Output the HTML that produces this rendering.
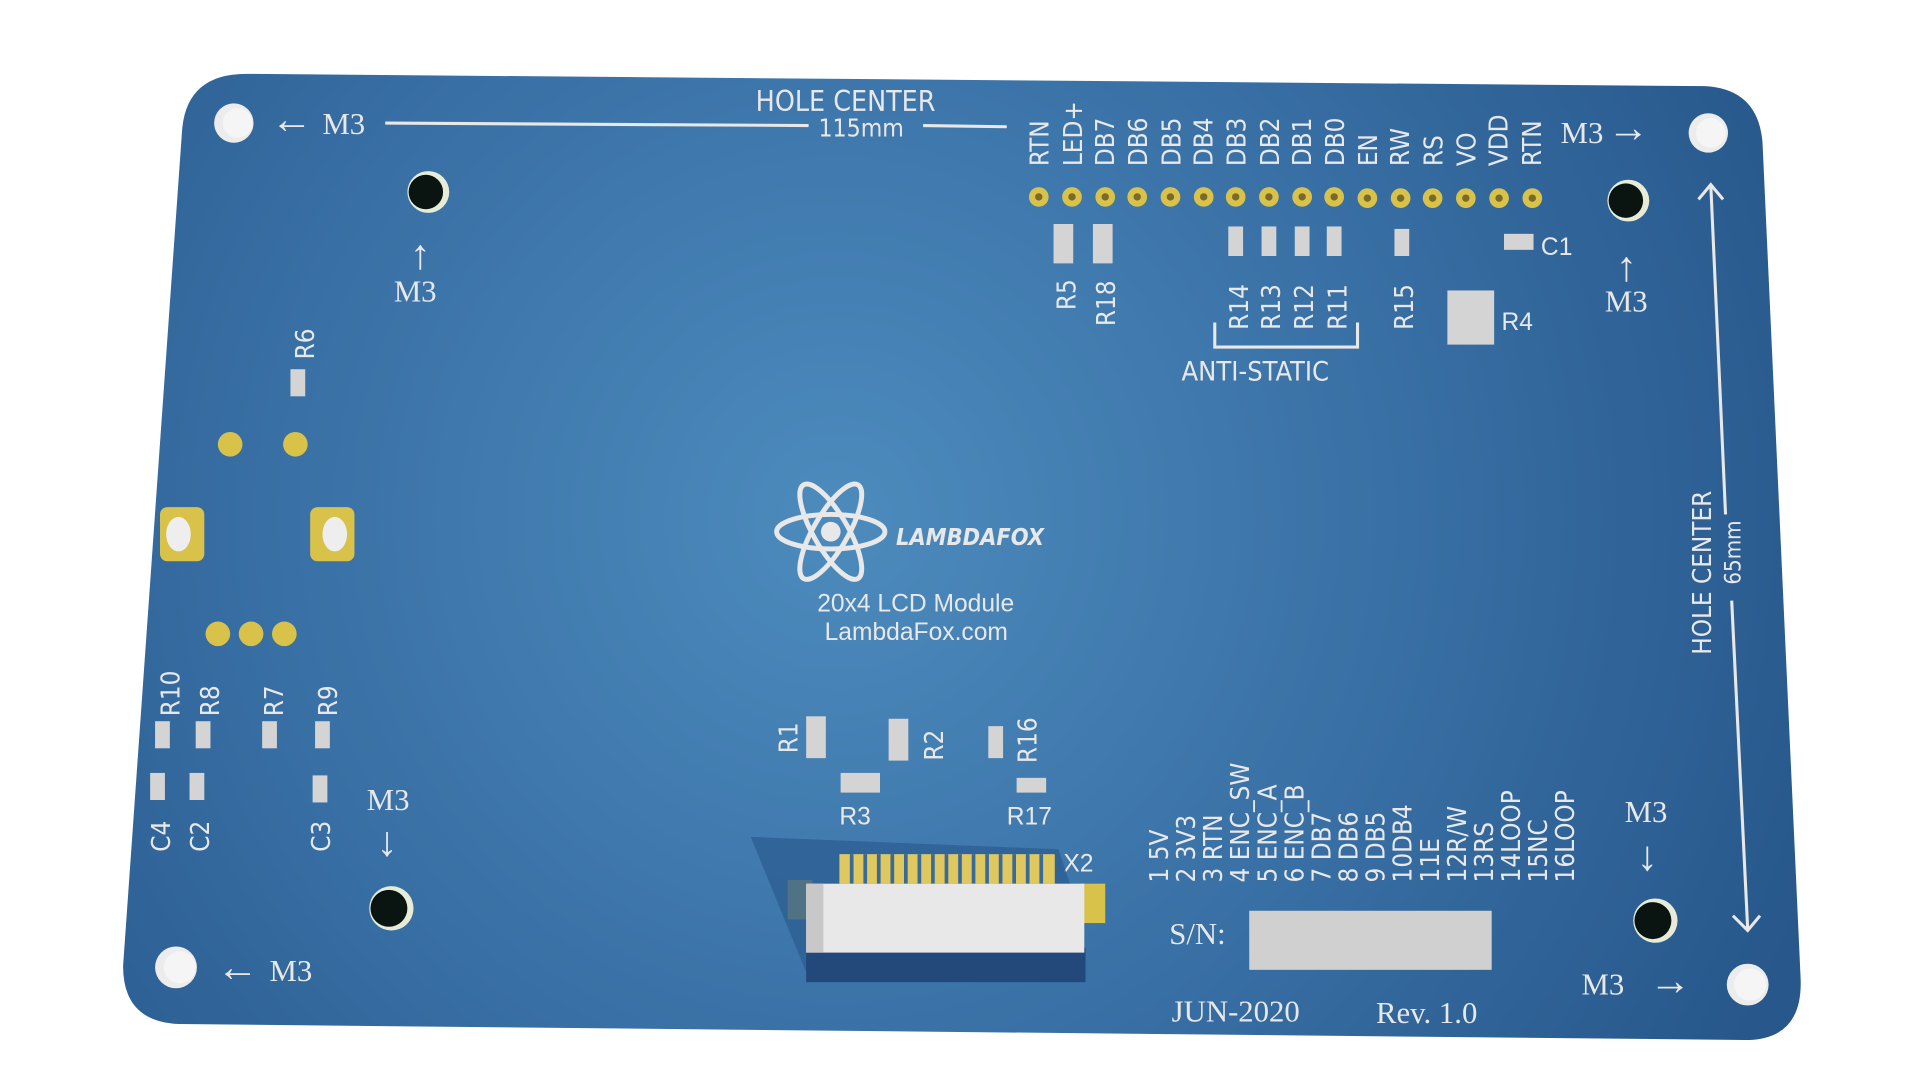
<!DOCTYPE html>
<html><head><meta charset="utf-8"><style>html,body{margin:0;padding:0;background:#fff;overflow:hidden}svg{display:block}</style></head>
<body>
<svg width="1920" height="1080" viewBox="0 0 1560 877.5" xmlns="http://www.w3.org/2000/svg">
<defs>
<radialGradient id="bg" cx="680" cy="420" r="850" gradientUnits="userSpaceOnUse">
<stop offset="0" stop-color="#4d8bbd"/><stop offset="0.55" stop-color="#386fa4"/><stop offset="1" stop-color="#27578b"/>
</radialGradient>
</defs>
<path d="M200,60 L1385,70 Q1428,72 1432,115 L1463,795 Q1465,845 1418,845 L145,832 Q100,830 100,785 L148,105 Q152,60 200,60 Z" fill="url(#bg)"/>
<g fill="#ececec"><circle cx="190" cy="100" r="16"/><circle cx="1388" cy="108" r="16"/><circle cx="1420" cy="800" r="17"/><circle cx="143" cy="786" r="17"/></g>
<g fill="#f5f5f5"><circle cx="193" cy="100" r="12"/><circle cx="1390" cy="108" r="12"/><circle cx="1422" cy="800" r="13"/><circle cx="146" cy="786" r="13"/></g>
<g fill="#e6ecd8"><circle cx="348" cy="156" r="17"/><circle cx="1323" cy="163" r="17"/><circle cx="1345" cy="748" r="18"/><circle cx="318" cy="738" r="18"/></g>
<g fill="#0a1410"><circle cx="346" cy="156" r="14"/><circle cx="1321" cy="163" r="14"/><circle cx="1343" cy="748" r="15"/><circle cx="316" cy="738" r="15"/></g>
<g stroke="#e8e8e8" stroke-width="2.5" fill="none">
<line x1="313" y1="100" x2="657" y2="102"/><line x1="750" y1="102" x2="818" y2="103"/>
<line x1="1390" y1="150" x2="1402" y2="418"/><line x1="1407" y1="488" x2="1420" y2="755"/>
<polyline points="1380,162 1390,150 1400,162"/><polyline points="1408,744 1420,756 1430,744"/>
<polyline points="987,262 987,282 1103,282 1103,262"/>
</g>
<g fill="#e8e8e8" font-family="Liberation Serif, serif" font-size="25">
<text x="262" y="109">M3</text><text x="220" y="108" font-size="34">←</text>
<text x="1268" y="116">M3</text><text x="1306" y="115" font-size="34">→</text>
<text x="320" y="245">M3</text><text x="333" y="218" font-size="34">↑</text>
<text x="1304" y="253">M3</text><text x="1313" y="228" font-size="34">↑</text>
<text x="298" y="658">M3</text><text x="306" y="695" font-size="34">↓</text>
<text x="1320" y="668">M3</text><text x="1330" y="707" font-size="34">↓</text>
<text x="219" y="797">M3</text><text x="176" y="797" font-size="34">←</text>
<text x="1285" y="808">M3</text><text x="1340" y="808" font-size="34">→</text>
<text x="950" y="767">S/N:</text>
<text x="952" y="830">JUN-2020</text><text x="1118" y="831">Rev. 1.0</text>
</g>
<g fill="#e8e8e8" font-family="DejaVu Sans Condensed, DejaVu Sans, sans-serif">
<text x="614" y="90" font-size="23">HOLE CENTER</text>
<text x="665" y="111" font-size="20">115mm</text>
<text x="960" y="309" font-size="22">ANTI-STATIC</text>
<text transform="translate(1390,532) rotate(-90)" font-size="21">HOLE CENTER</text>
<text transform="translate(1414,475) rotate(-90)" font-size="18">65mm</text>
<text x="728" y="443" font-size="19" font-weight="bold" font-style="italic">LAMBDAFOX</text>
</g>
<g fill="#e8e8e8" font-family="Liberation Sans, sans-serif" font-size="20">
<text x="664" y="497">20x4 LCD Module</text><text x="670" y="520">LambdaFox.com</text>
<text x="1220" y="268">R4</text><text x="1252" y="207">C1</text><text x="864" y="708">X2</text>
<text x="682" y="670">R3</text><text x="818" y="670">R17</text>
</g>
<g stroke="#e8e8e8" stroke-width="4" fill="none">
<ellipse cx="675" cy="432" rx="44" ry="14"/>
<ellipse cx="675" cy="432" rx="44" ry="14" transform="rotate(60 675 432)"/>
<ellipse cx="675" cy="432" rx="44" ry="14" transform="rotate(-60 675 432)"/>
</g>
<circle cx="675" cy="432" r="8" fill="#e8e8e8"/>
<g fill="#e8e8e8" font-family="DejaVu Sans Condensed, DejaVu Sans, sans-serif" font-size="21">
<text transform="translate(852,135) rotate(-90)">RTN</text>
<text transform="translate(879,135) rotate(-90)">LED+</text>
<text transform="translate(905,135) rotate(-90)">DB7</text>
<text transform="translate(932,135) rotate(-90)">DB6</text>
<text transform="translate(959,135) rotate(-90)">DB5</text>
<text transform="translate(985,135) rotate(-90)">DB4</text>
<text transform="translate(1012,135) rotate(-90)">DB3</text>
<text transform="translate(1039,135) rotate(-90)">DB2</text>
<text transform="translate(1065,135) rotate(-90)">DB1</text>
<text transform="translate(1092,135) rotate(-90)">DB0</text>
<text transform="translate(1119,135) rotate(-90)">EN</text>
<text transform="translate(1145,135) rotate(-90)">RW</text>
<text transform="translate(1172,135) rotate(-90)">RS</text>
<text transform="translate(1199,135) rotate(-90)">VO</text>
<text transform="translate(1225,135) rotate(-90)">VDD</text>
<text transform="translate(1252,135) rotate(-90)">RTN</text>
<text transform="translate(874,252) rotate(-90)">R5</text>
<text transform="translate(906,265) rotate(-90)">R18</text>
<text transform="translate(1014,268) rotate(-90)">R14</text>
<text transform="translate(1040,268) rotate(-90)">R13</text>
<text transform="translate(1067,268) rotate(-90)">R12</text>
<text transform="translate(1094,268) rotate(-90)">R11</text>
<text transform="translate(1148,268) rotate(-90)">R15</text>
<text transform="translate(255,292) rotate(-90)">R6</text>
<text transform="translate(146,582) rotate(-90)">R10</text>
<text transform="translate(178,582) rotate(-90)">R8</text>
<text transform="translate(230,582) rotate(-90)">R7</text>
<text transform="translate(274,582) rotate(-90)">R9</text>
<text transform="translate(138,692) rotate(-90)">C4</text>
<text transform="translate(170,692) rotate(-90)">C2</text>
<text transform="translate(268,692) rotate(-90)">C3</text>
<text transform="translate(648,612) rotate(-90)">R1</text>
<text transform="translate(766,618) rotate(-90)">R2</text>
<text transform="translate(842,620) rotate(-90)">R16</text>
</g>
<g fill="#e8e8e8" font-family="DejaVu Sans Condensed, DejaVu Sans, sans-serif" font-size="21">
<text transform="translate(949,717) rotate(-90)">1  5V</text>
<text transform="translate(971,717) rotate(-90)">2  3V3</text>
<text transform="translate(993,717) rotate(-90)">3  RTN</text>
<text transform="translate(1015,717) rotate(-90)">4  ENC_SW</text>
<text transform="translate(1037,717) rotate(-90)">5  ENC_A</text>
<text transform="translate(1059,717) rotate(-90)">6  ENC_B</text>
<text transform="translate(1081,717) rotate(-90)">7  DB7</text>
<text transform="translate(1103,717) rotate(-90)">8  DB6</text>
<text transform="translate(1125,717) rotate(-90)">9  DB5</text>
<text transform="translate(1147,717) rotate(-90)">10DB4</text>
<text transform="translate(1169,717) rotate(-90)">11E</text>
<text transform="translate(1191,717) rotate(-90)">12R/W</text>
<text transform="translate(1213,717) rotate(-90)">13RS</text>
<text transform="translate(1235,717) rotate(-90)">14LOOP</text>
<text transform="translate(1257,717) rotate(-90)">15NC</text>
<text transform="translate(1279,717) rotate(-90)">16LOOP</text>
</g>
<g fill="#d8c24a">
<circle cx="844" cy="160" r="8"/><circle cx="871" cy="160" r="8"/><circle cx="898" cy="160" r="8"/><circle cx="924" cy="160" r="8"/><circle cx="951" cy="160" r="8"/><circle cx="978" cy="160" r="8"/><circle cx="1004" cy="160" r="8"/><circle cx="1031" cy="160" r="8"/><circle cx="1058" cy="160" r="8"/><circle cx="1084" cy="160" r="8"/><circle cx="1111" cy="161" r="8"/><circle cx="1138" cy="161" r="8"/><circle cx="1164" cy="161" r="8"/><circle cx="1191" cy="161" r="8"/><circle cx="1218" cy="161" r="8"/><circle cx="1245" cy="161" r="8"/>
<circle cx="187" cy="361" r="10"/><circle cx="240" cy="361" r="10"/>
<circle cx="177" cy="515" r="10"/><circle cx="204" cy="515" r="10"/><circle cx="231" cy="515" r="10"/>
<rect x="130" y="412" width="36" height="44" rx="6"/><rect x="252" y="412" width="36" height="44" rx="6"/>
<rect x="640" y="715" width="20" height="32"/><rect x="878" y="718" width="20" height="32"/>
</g>
<g fill="#7a6a2a"><circle cx="844" cy="160" r="3"/><circle cx="871" cy="160" r="3"/><circle cx="898" cy="160" r="3"/><circle cx="924" cy="160" r="3"/><circle cx="951" cy="160" r="3"/><circle cx="978" cy="160" r="3"/><circle cx="1004" cy="160" r="3"/><circle cx="1031" cy="160" r="3"/><circle cx="1058" cy="160" r="3"/><circle cx="1084" cy="160" r="3"/><circle cx="1111" cy="161" r="3"/><circle cx="1138" cy="161" r="3"/><circle cx="1164" cy="161" r="3"/><circle cx="1191" cy="161" r="3"/><circle cx="1218" cy="161" r="3"/><circle cx="1245" cy="161" r="3"/></g>
<g fill="#eee"><ellipse cx="145" cy="434" rx="10" ry="14"/><ellipse cx="272" cy="434" rx="10" ry="14"/></g>
<g fill="#d4d4d4">
<rect x="856" y="182" width="16" height="32"/><rect x="888" y="182" width="16" height="32"/>
<rect x="998" y="184" width="12" height="24"/><rect x="1025" y="184" width="12" height="24"/><rect x="1052" y="184" width="12" height="24"/><rect x="1078" y="184" width="12" height="24"/><rect x="1133" y="186" width="12" height="22"/>
<rect x="1222" y="190" width="24" height="13"/>
<rect x="1176" y="236" width="38" height="44"/>
<rect x="236" y="300" width="12" height="22"/>
<rect x="126" y="586" width="12" height="22"/><rect x="159" y="586" width="12" height="22"/><rect x="213" y="586" width="12" height="22"/><rect x="256" y="586" width="12" height="22"/>
<rect x="122" y="628" width="12" height="22"/><rect x="154" y="628" width="12" height="22"/><rect x="254" y="630" width="12" height="22"/>
<rect x="655" y="582" width="16" height="34"/><rect x="722" y="584" width="16" height="34"/><rect x="803" y="590" width="12" height="26"/>
<rect x="683" y="628" width="32" height="16"/><rect x="826" y="632" width="24" height="12"/>
</g>
<path d="M610,680 L860,690 L870,720 L882,798 L655,790 Z" fill="#2d5f92" opacity="0.8"/>
<rect x="655" y="770" width="227" height="28" fill="#22497a"/>
<rect x="682" y="694" width="175" height="24" fill="#e0c860"/>
<g stroke="#3a6a98" stroke-width="3">
<line x1="692" y1="694" x2="692" y2="718"/><line x1="703" y1="694" x2="703" y2="718"/><line x1="714" y1="694" x2="714" y2="718"/><line x1="725" y1="694" x2="725" y2="718"/><line x1="736" y1="694" x2="736" y2="718"/><line x1="747" y1="694" x2="747" y2="718"/><line x1="758" y1="694" x2="758" y2="718"/><line x1="769" y1="694" x2="769" y2="718"/><line x1="780" y1="694" x2="780" y2="718"/><line x1="791" y1="694" x2="791" y2="718"/><line x1="802" y1="694" x2="802" y2="718"/><line x1="813" y1="694" x2="813" y2="718"/><line x1="824" y1="694" x2="824" y2="718"/><line x1="835" y1="694" x2="835" y2="718"/><line x1="846" y1="694" x2="846" y2="718"/>
</g>
<rect x="655" y="718" width="226" height="56" fill="#e8e8e8"/>
<rect x="655" y="718" width="14" height="56" fill="#c8c8c8"/>
<rect x="1015" y="740" width="197" height="48" fill="#d0d0d0"/>
</svg>
</body></html>
